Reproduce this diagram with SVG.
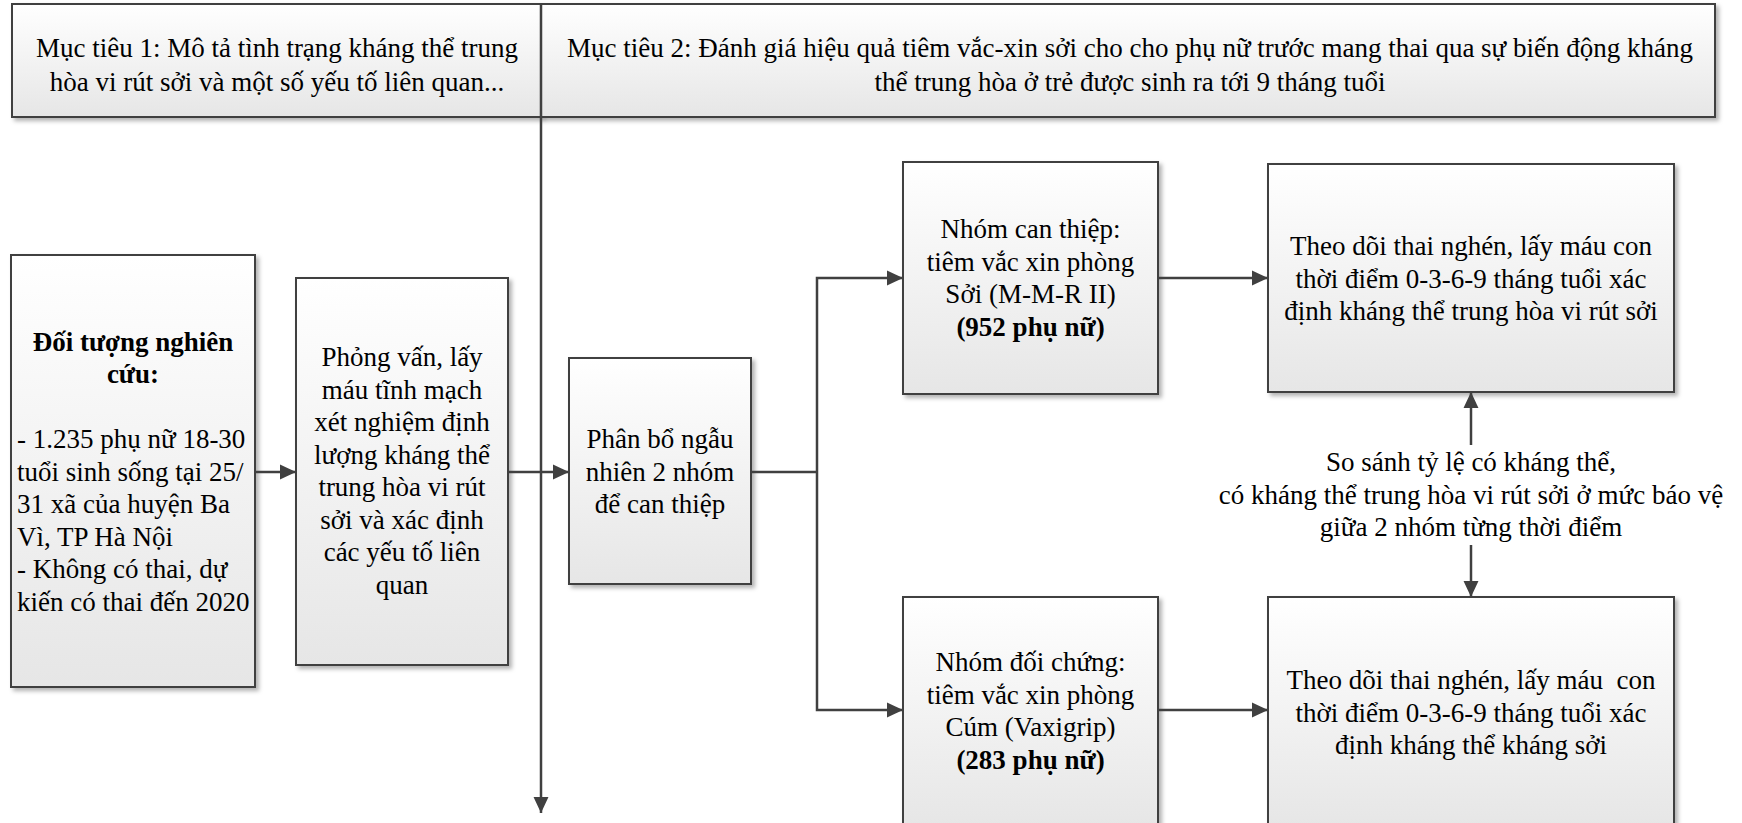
<svg xmlns="http://www.w3.org/2000/svg" width="1742" height="823" viewBox="0 0 1742 823">
<style>
.box{fill:url(#g);stroke:#404040;stroke-width:2;filter:url(#sh)}
text{font-family:'Liberation Serif','DejaVu Serif',serif;font-size:27px;fill:#000}
.c{text-anchor:middle}
.b{font-weight:bold}
.ln{fill:none;stroke:#404040;stroke-width:2.5}
.arr{marker-end:url(#ah)}
</style>
<defs>
<linearGradient id="g" x1="0" y1="0" x2="0" y2="1">
<stop offset="0" stop-color="#ffffff"/>
<stop offset="1" stop-color="#e6e6e6"/>
</linearGradient>
<filter id="sh" x="-5%" y="-5%" width="115%" height="115%">
<feDropShadow dx="3" dy="3" stdDeviation="2" flood-color="#000" flood-opacity="0.3"/>
</filter>
<marker id="ah" markerUnits="userSpaceOnUse" markerWidth="16" markerHeight="16" viewBox="0 0 15 14" refX="15" refY="7" orient="auto">
<path d="M0,0 L15,7 L0,14 z" fill="#404040"/>
</marker>
</defs>

<g font-family="Liberation Serif, DejaVu Serif, serif">
<g id="header1">
<rect class="box" x="12" y="4" width="529" height="113"/>
<text class="c" x="277" y="57">Mục tiêu 1: Mô tả tình trạng kháng thể trung</text>
<text class="c" x="277" y="91">hòa vi rút sởi và một số yếu tố liên quan...</text>
</g>
<g id="header2">
<rect class="box" x="541" y="4" width="1174" height="113"/>
<text class="c" x="1130" y="57">Mục tiêu 2: Đánh giá hiệu quả tiêm vắc-xin sởi cho cho phụ nữ trước mang thai qua sự biến động kháng</text>
<text class="c" x="1130" y="91">thể trung hòa ở trẻ được sinh ra tới 9 tháng tuổi</text>
</g>

<g id="nodeA">
<rect class="box" x="11" y="255" width="244" height="432"/>
<text class="c b" x="133" y="351">Đối tượng nghiên</text>
<text class="c b" x="133" y="383">cứu:</text>
<text x="17" y="448">- 1.235 phụ nữ 18-30</text>
<text x="17" y="480.5">tuổi sinh sống tại 25/</text>
<text x="17" y="513">31 xã của huyện Ba</text>
<text x="17" y="545.5">Vì, TP Hà Nội</text>
<text x="17" y="578">- Không có thai, dự</text>
<text x="17" y="610.5">kiến có thai đến 2020</text>
</g>

<g id="nodeB">
<rect class="box" x="296" y="278" width="212" height="387"/>
<text class="c" x="402" y="366">Phỏng vấn, lấy</text>
<text class="c" x="402" y="398.5">máu tĩnh mạch</text>
<text class="c" x="402" y="431">xét nghiệm định</text>
<text class="c" x="402" y="463.5">lượng kháng thể</text>
<text class="c" x="402" y="496">trung hòa vi rút</text>
<text class="c" x="402" y="528.5">sởi và xác định</text>
<text class="c" x="402" y="561">các yếu tố liên</text>
<text class="c" x="402" y="593.5">quan</text>
</g>

<g id="nodeC">
<rect class="box" x="569" y="358" width="182" height="226"/>
<text class="c" x="660" y="448">Phân bổ ngẫu</text>
<text class="c" x="660" y="480.5">nhiên 2 nhóm</text>
<text class="c" x="660" y="513">để can thiệp</text>
</g>

<g id="nodeD">
<rect class="box" x="903" y="162" width="255" height="232"/>
<text class="c" x="1030.5" y="238">Nhóm can thiệp:</text>
<text class="c" x="1030.5" y="270.5">tiêm vắc xin phòng</text>
<text class="c" x="1030.5" y="303">Sởi (M-M-R II)</text>
<text class="c b" x="1030.5" y="335.5">(952 phụ nữ)</text>
</g>

<g id="nodeE">
<rect class="box" x="1268" y="164" width="406" height="228"/>
<text class="c" x="1471" y="255">Theo dõi thai nghén, lấy máu con</text>
<text class="c" x="1471" y="287.5">thời điểm 0-3-6-9 tháng tuổi xác</text>
<text class="c" x="1471" y="320">định kháng thể trung hòa vi rút sởi</text>
</g>

<g id="nodeF">
<rect class="box" x="903" y="597" width="255" height="230"/>
<text class="c" x="1030.5" y="671">Nhóm đối chứng:</text>
<text class="c" x="1030.5" y="703.5">tiêm vắc xin phòng</text>
<text class="c" x="1030.5" y="736">Cúm (Vaxigrip)</text>
<text class="c b" x="1030.5" y="769">(283 phụ nữ)</text>
</g>

<g id="nodeG">
<rect class="box" x="1268" y="597" width="406" height="230"/>
<text class="c" x="1471" y="689" xml:space="preserve">Theo dõi thai nghén, lấy máu  con</text>
<text class="c" x="1471" y="721.5">thời điểm 0-3-6-9 tháng tuổi xác</text>
<text class="c" x="1471" y="754">định kháng thể kháng sởi</text>
</g>

<g id="label">
<text class="c" x="1471" y="471">So sánh tỷ lệ có kháng thể,</text>
<text class="c" x="1471" y="503.5">có kháng thể trung hòa vi rút sởi ở mức báo vệ</text>
<text class="c" x="1471" y="536">giữa 2 nhóm từng thời điểm</text>
</g>
</g>

<g id="connectors">
<path class="ln arr" d="M541,4 V813"/>
<path class="ln arr" d="M255,472 H296"/>
<path class="ln arr" d="M508,472 H569"/>
<path class="ln" d="M751,472 H817"/>
<path class="ln arr" d="M817,472 V278 H903"/>
<path class="ln arr" d="M817,472 V710 H903"/>
<path class="ln arr" d="M1158,278 H1268"/>
<path class="ln arr" d="M1158,710 H1268"/>
<path class="ln arr" d="M1471,445 V392"/>
<path class="ln arr" d="M1471,545 V597"/>
</g>
</svg>
